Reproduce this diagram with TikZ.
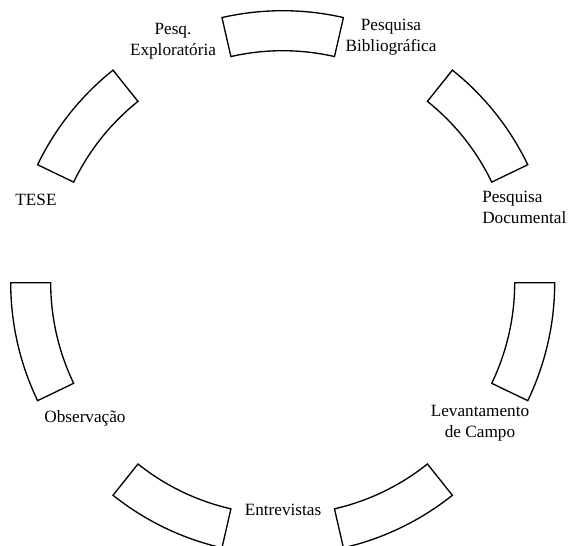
\documentclass[tikz,border=0pt]{standalone}
\usepackage{fontspec}
\setmainfont{Liberation Serif}
\tikzset{
  segm/.style={line width=1pt, line join=miter},
  lbl/.style={inner sep=0pt, align=center, font=\fontsize{12.9}{15.7}\selectfont}
}
\begin{document}
\begin{tikzpicture}[x=0.75pt,y=0.75pt]
            \clip (-282.7,-263.3) rectangle (286.3,282.7);
            % ring segments, inner radius 232, outer 272
            \draw[segm] (77.1:232) arc[start angle=77.1, end angle=102.9, radius=232] -- (102.9:272) arc[start angle=102.9, end angle=77.1, radius=272] -- cycle;
            \draw[segm] (128.6:232) arc[start angle=128.6, end angle=154.3, radius=232] -- (154.3:272) arc[start angle=154.3, end angle=128.6, radius=272] -- cycle;
            \draw[segm] (180:232) arc[start angle=180, end angle=205.7, radius=232] -- (205.7:272) arc[start angle=205.7, end angle=180, radius=272] -- cycle;
            \draw[segm] (231.4:232) arc[start angle=231.4, end angle=257.1, radius=232] -- (257.1:272) arc[start angle=257.1, end angle=231.4, radius=272] -- cycle;
            \draw[segm] (282.9:232) arc[start angle=282.9, end angle=308.6, radius=232] -- (308.6:272) arc[start angle=308.6, end angle=282.9, radius=272] -- cycle;
            \draw[segm] (334.3:232) arc[start angle=334.3, end angle=360, radius=232] -- (360:272) arc[start angle=360, end angle=334.3, radius=272] -- cycle;
            \draw[segm] (25.7:232) arc[start angle=25.7, end angle=51.4, radius=232] -- (51.4:272) arc[start angle=51.4, end angle=25.7, radius=272] -- cycle;
            % labels in the gaps
            \node[lbl] (expl) at (-109.7,241.7) {Pesq.\\Exploratória};
            \node[lbl] (bibl) at (108.3,245.7) {Pesquisa\\Bibliográfica};
            \node[lbl, anchor=west, align=left] (docu) at (199.3,75.7) {Pesquisa\\Documental};
            \node[lbl] (levc) at (197.3,-140.3) {Levantamento\\de Campo};
            \node[lbl] (entr) at (0.3,-227.3) {Entrevistas};
            \node[lbl] (obse) at (-197.7,-135.3) {Observação};
            \node[lbl] (tese) at (-246.7,82.7) {TESE};
        \end{tikzpicture}
\end{document}
